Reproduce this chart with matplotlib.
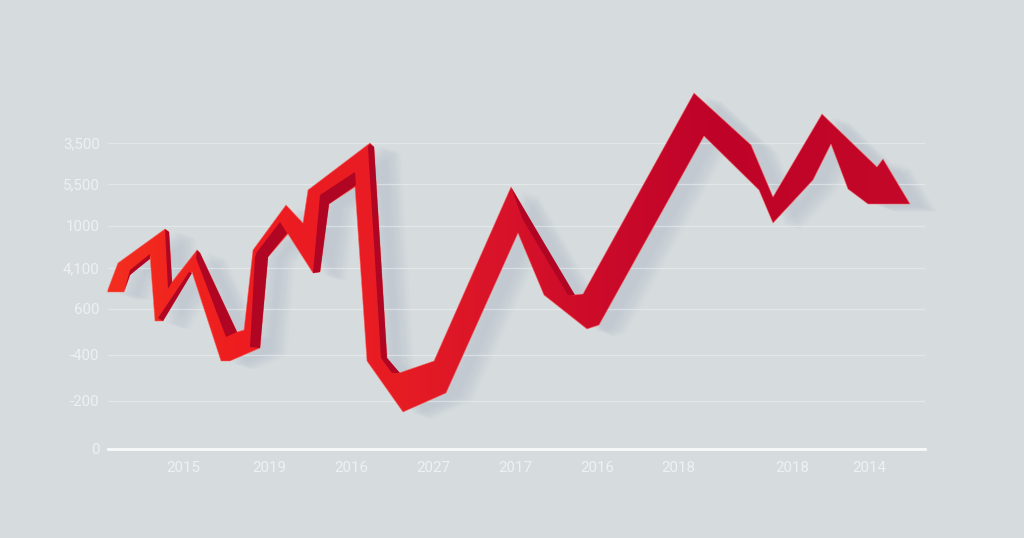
import numpy as np
import matplotlib
matplotlib.use('Agg')
from matplotlib import pyplot as plt
from matplotlib.patches import Polygon
from matplotlib.colors import LinearSegmentedColormap

# axis text (the labels are not in order, same as the original)
y_labels = ['3,500', '5,500', '1000', '4,100', '600', '-400', '-200', '0']
y_ticks = [143, 184, 226, 268, 309, 355, 401, 449]
x_labels = ['2015', '2019', '2016', '2027', '2017', '2016', '2018', '2018', '2014']
x_ticks = [183, 269, 351, 433, 515, 597, 678, 792, 869]

# ribbon outline, top edge left to right then bottom edge back
top_x = [107, 118, 165, 169, 172, 197, 200, 237, 244, 253, 286, 303, 308, 370, 374, 387, 399, 434, 511, 573, 583, 694, 751, 773, 822, 877, 883, 910]
top_y = [292, 263, 229, 232, 282, 250, 253, 332, 330, 250, 205, 223, 190, 143, 147, 358, 373, 361, 187, 295, 294, 93, 145, 197, 114, 167, 159, 204]
bottom_x = [868, 848, 831, 813, 773, 759, 704, 599, 587, 544, 518, 446, 403, 367, 355, 329, 320, 313, 288, 268, 260, 230, 221, 192, 163, 155, 150, 130, 124]
bottom_y = [204, 189, 144, 180, 223, 190, 136, 325, 329, 295, 233, 393, 412, 361, 187, 204, 272, 273, 234, 257, 348, 361, 361, 272, 321, 321, 256, 275, 292]

# darker side faces of the ribbon
dark_faces = [
    ([150, 130, 124, 130, 150], [254, 270, 292, 275, 259]),
    ([165, 169, 172, 168], [229, 232, 282, 289]),
    ([158, 189, 192, 163], [318, 272, 273, 321]),
    ([197, 200, 237, 226, 196], [250, 253, 332, 337, 258]),
    ([257, 280, 287, 268, 260, 250, 255], [252, 222, 233, 257, 348, 347, 257]),
    ([320, 355, 356, 329, 320, 313], [195, 172, 185, 204, 272, 273]),
    ([370, 374, 387, 400, 392, 381, 368], [144, 147, 358, 373, 373, 358, 147]),
    ([511, 575, 568, 523], [187, 295, 295, 220]),
]

bg = '#d6dcde'
label_col = '#eef1f2'

plt.rcParams['font.family'] = ['Roboto', 'DejaVu Sans']
fig = plt.figure(figsize=(10.24, 5.38), dpi=100, facecolor=bg)
# axes box is 108..925 px across and 60..449 px down
ax = fig.add_axes([108 / 1024, 1 - 449 / 538, (925 - 108) / 1024, (449 - 60) / 538])
ax.patch.set_alpha(0)

ribbon = np.column_stack([top_x + bottom_x, top_y + bottom_y])

# soft shadow, a few stacked copies shifted right and down
for dx, dy in [(12, 3), (15, 4), (18, 5), (21, 6), (24, 7), (27, 8)]:
    ax.add_patch(Polygon(ribbon + [dx, dy], closed=True, fc='#b2bbc6', ec='none', alpha=0.11, clip_on=False, zorder=1))

# grid
ax.set_yticks(y_ticks, y_labels)
ax.set_xticks(x_ticks, x_labels)
ax.set_xlim(108, 925)
ax.set_ylim(449, 60)
ax.grid(axis='y', color='#eef1f3', lw=0.9, alpha=0.55, zorder=0.5)
ax.tick_params(axis='both', length=0, labelsize=10.8, labelcolor=label_col)
ax.tick_params(axis='y', pad=6)
ax.tick_params(axis='x', pad=9)
for s in ['top', 'left', 'right']:
    ax.spines[s].set_visible(False)
ax.spines['bottom'].set_color('#f8fafa')
ax.spines['bottom'].set_linewidth(2)

# ribbon colour runs from orange red on the left to crimson on the right
ramp = LinearSegmentedColormap.from_list('ribbon', [
    (0.0, '#f32e1e'), (0.17, '#ee1c20'), (0.36, '#e71d23'), (0.5, '#d7122a'), (0.75, '#bf0329'), (1.0, '#c40828')])
grad = np.linspace(0, 1, 512).reshape(1, -1)
im = ax.imshow(grad, cmap=ramp, extent=(107, 910, 449, 60), aspect='auto', zorder=2)
outline = Polygon(ribbon, closed=True, transform=ax.transData, fc='none', ec='none')
ax.add_patch(outline)
im.set_clip_path(outline)
ax.add_patch(Polygon(ribbon, closed=True, fc='none', ec='#f26a66', lw=0.6, alpha=0.6, clip_on=False, zorder=3))

for xs, ys in dark_faces:
    ax.add_patch(Polygon(np.column_stack([xs, ys]), closed=True, fc='#b00624', ec='none', clip_on=False, zorder=4))

ax.set_xlim(108, 925)
ax.set_ylim(449, 60)

fig.savefig('out.png', dpi=100, facecolor=bg)
